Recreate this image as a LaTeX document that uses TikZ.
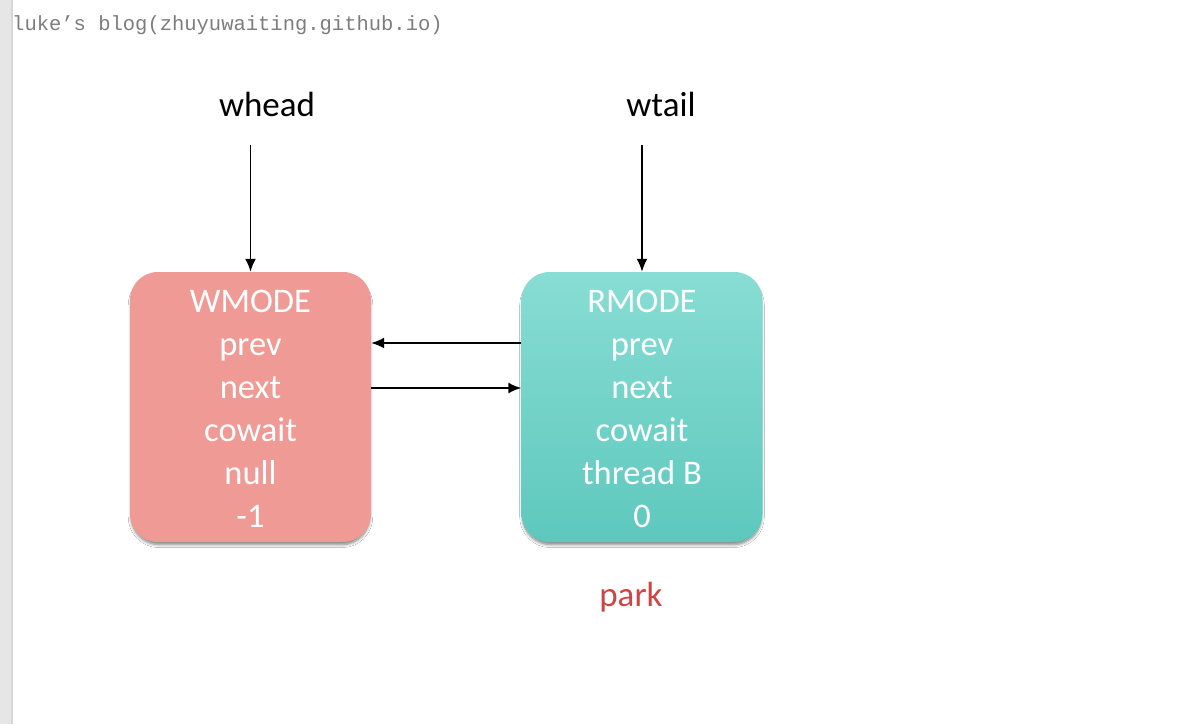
\documentclass[tikz,border=0pt]{standalone}
\usepackage{fontspec}
\setmainfont{Carlito}
\newfontfamily\wmfont{Liberation Mono}
\usetikzlibrary{arrows.meta,shadows.blur}
\definecolor{wbox}{RGB}{239,154,148}
\definecolor{rtop}{RGB}{136,221,212}
\definecolor{rbot}{RGB}{94,200,189}
\definecolor{parkred}{RGB}{206,70,68}
\definecolor{wmgrey}{RGB}{125,125,125}
\definecolor{barbg}{RGB}{230,230,230}
\definecolor{baredge}{RGB}{214,214,214}
\tikzset{
  nodebox/.style={rounded corners=28pt, minimum width=241pt, minimum height=270pt, inner sep=0pt,
    blur shadow={shadow xshift=0pt, shadow yshift=-4pt, shadow blur radius=3pt, shadow blur steps=6, shadow scale=0.99, shadow opacity=50}},
  boxtext/.style={text=white, font=\fontsize{34.5}{40}\selectfont, anchor=base, inner sep=0pt},
  ptr/.style={font=\fontsize{35}{40}\selectfont, anchor=base, inner sep=0pt},
  ptrarrow/.style={draw=black, line width=1.8pt, -{Latex[length=13pt,width=11pt]}}
}
\begin{document}
\begin{tikzpicture}[x=1pt,y=-1pt]
\useasboundingbox (0,0) rectangle (1184,724);
\fill[white] (0,0) rectangle (1184,724);
\fill[barbg] (0,0) rectangle (12,724);
\fill[baredge] (11,0) rectangle (13,724);
\node[font=\wmfont\fontsize{20.5}{24}\selectfont, text=wmgrey, anchor=base west, inner sep=0pt] (wm) at (12,30) {luke’s blog(zhuyuwaiting.github.io)};

\node[nodebox, fill=wbox] (w) at (250.5,407) {};
\node[nodebox, top color=rtop, bottom color=rbot] (r) at (642,407) {};

\foreach \t [count=\i] in {WMODE,prev,next,cowait,null,-1}
  \node[boxtext] (wl\i) at (250.5,{312+43*(\i-1)}) {\t};
\foreach \t [count=\i] in {RMODE,prev,next,cowait,thread B,0}
  \node[boxtext] (rl\i) at (642,{312+43*(\i-1)}) {\t};

\node[ptr] (whead) at (267,116) {whead};
\node[ptr] (wtail) at (661,116) {wtail};
\node[ptr, text=parkred] (park) at (631,606) {park};

\coordinate (wheadend) at (250.5,145);
\coordinate (wtailend) at (642,145);
\draw[ptrarrow] (wheadend) -- (w.north);
\draw[ptrarrow] (wtailend) -- (r.north);
\draw[ptrarrow] (r.west |- 0,343) -- (w.east |- 0,343);
\draw[ptrarrow] (w.east |- 0,388) -- (r.west |- 0,388);
\end{tikzpicture}
\end{document}
